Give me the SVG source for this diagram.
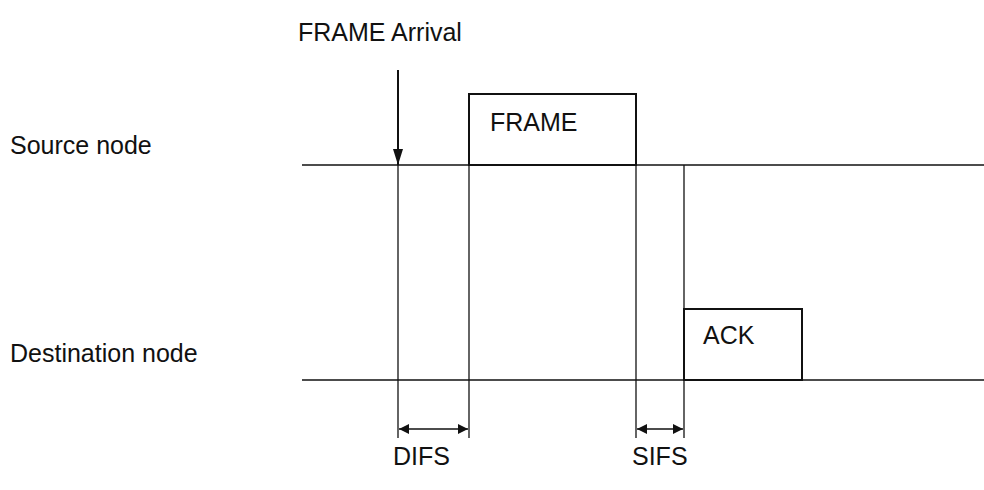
<svg xmlns="http://www.w3.org/2000/svg" width="984" height="490" viewBox="0 0 984 490">
<style>
text{font-family:"Liberation Sans",Arial,sans-serif;font-size:25px;fill:#111}
.ln{stroke:#111;stroke-width:1.3;fill:none}
.box{stroke:#111;stroke-width:2;fill:#fff}
</style>
<defs>
<marker id="ah" viewBox="0 0 10 10" refX="10" refY="5" markerWidth="10" markerHeight="10" markerUnits="userSpaceOnUse" orient="auto-start-reverse"><path d="M0,0 L10,5 L0,10 Z" fill="#111"/></marker>
<marker id="dh" viewBox="0 0 16 10" refX="16" refY="5" markerWidth="16" markerHeight="10" markerUnits="userSpaceOnUse" orient="auto"><path d="M0,0 L16,5 L0,10 Z" fill="#111"/></marker>
</defs>
<g id="labels">
<text x="298" y="41" font-size="22.5">FRAME Arrival</text>
<text x="10" y="154" font-size="27.5">Source node</text>
<text x="10" y="362" font-size="27.5">Destination node</text>
<text x="393" y="465" font-size="21.5">DIFS</text>
<text x="632" y="465" font-size="21.5">SIFS</text>
</g>
<g id="connectors">
<line class="ln" x1="302" y1="165" x2="984" y2="165"/>
<line class="ln" x1="302" y1="380" x2="984" y2="380"/>
<line class="ln" x1="398" y1="165" x2="398" y2="438"/>
<line class="ln" x1="469" y1="165" x2="469" y2="438"/>
<line class="ln" x1="636" y1="165" x2="636" y2="438"/>
<line class="ln" x1="684" y1="165" x2="684" y2="438"/>
<line stroke="#111" stroke-width="2" x1="398" y1="70" x2="398" y2="165" marker-end="url(#dh)"/>
<line class="ln" x1="399" y1="429" x2="468" y2="429" marker-start="url(#ah)" marker-end="url(#ah)"/>
<line class="ln" x1="637" y1="429" x2="683" y2="429" marker-start="url(#ah)" marker-end="url(#ah)"/>
</g>
<g id="frame">
<rect class="box" x="469" y="94" width="167" height="71"/>
<text x="490" y="131">FRAME</text>
</g>
<g id="ack">
<rect class="box" x="684" y="309" width="118" height="71"/>
<text x="703" y="344">ACK</text>
</g>
</svg>
